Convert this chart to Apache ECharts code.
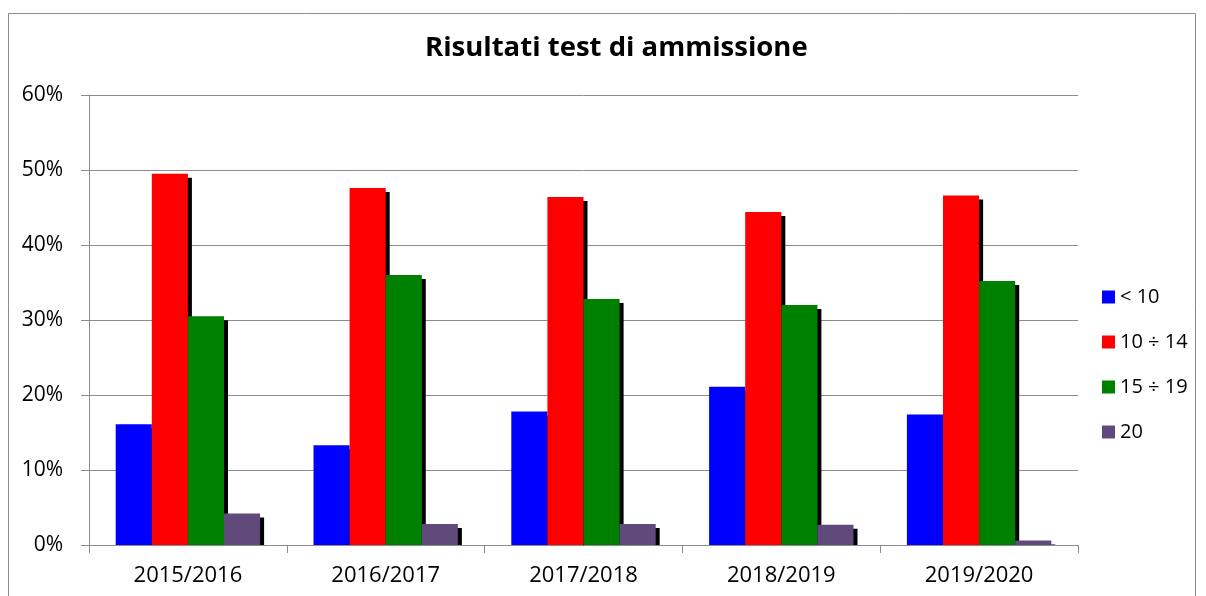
<!DOCTYPE html>
<html>
<head>
<meta charset="utf-8">
<script src="https://cdn.jsdelivr.net/npm/echarts@6/dist/echarts.min.js"></script>
<style>
  html, body { margin: 0; padding: 0; background: #fff; }
  #chart { width: 1206px; height: 596px; }
</style>
</head>
<body>
<div id="chart"></div>
<script>
const years = ['2015/2016', '2016/2017', '2017/2018', '2018/2019', '2019/2020']
const seriesNames = ['< 10', '10 ÷ 14', '15 ÷ 19', '20']
const below10 = [16.1, 13.3, 17.8, 21.1, 17.4]
const from10to14 = [49.5, 47.6, 46.4, 44.4, 46.6]
const from15to19 = [30.5, 36.0, 32.8, 32.0, 35.2]
const full20 = [4.2, 2.8, 2.8, 2.7, 0.6]
const colors = ['#0000ff', '#ff0000', '#008000', '#604a7b']

const font = '"Open Sans", sans-serif'
const chart = echarts.init(document.getElementById('chart'))

const makeBar = (name, data, color) => ({
  name,
  type: 'bar',
  data,
  barGap: '0%',
  barCategoryGap: '27%',
  itemStyle: {
    color,
    shadowColor: '#000',
    shadowBlur: 0,
    shadowOffsetX: 4,
    shadowOffsetY: 4
  },
  emphasis: { disabled: true }
})

chart.setOption({
  animation: false,
  title: {
    text: 'Risultati test di ammissione',
    left: 420,
    top: 29,
    textStyle: { fontFamily: font, fontSize: 27.5, fontWeight: 'bold', color: '#000' }
  },
  graphic: [
    {
      type: 'rect',
      shape: { x: 8.5, y: 13.5, width: 1187, height: 600 },
      style: { fill: 'none', stroke: '#8c8c8c', lineWidth: 1 },
      silent: true
    },
    {
      // hides the part of the bar shadows that falls under the x axis
      type: 'rect',
      z: 3,
      shape: { x: 90, y: 546, width: 988, height: 6 },
      style: { fill: '#fff' },
      silent: true
    }
  ],
  legend: {
    orient: 'vertical',
    left: 1097,
    top: 282,
    itemWidth: 13,
    itemHeight: 13,
    itemGap: 25,
    icon: 'rect',
    data: seriesNames,
    textStyle: { fontFamily: font, fontSize: 20, color: '#000' }
  },
  grid: { left: 89, right: 128, top: 95, bottom: 51 },
  xAxis: {
    type: 'category',
    data: years,
    z: 4,
    axisLine: { lineStyle: { color: '#8c8c8c' } },
    axisTick: { show: true, length: 8, lineStyle: { color: '#8c8c8c' } },
    axisLabel: { fontFamily: font, fontSize: 22, color: '#000', margin: 20 }
  },
  yAxis: {
    type: 'value',
    min: 0,
    max: 60,
    interval: 10,
    axisLine: { show: true, lineStyle: { color: '#8c8c8c' } },
    axisTick: { show: true, length: 8, lineStyle: { color: '#8c8c8c' } },
    splitLine: { lineStyle: { color: '#8c8c8c' } },
    axisLabel: { fontFamily: font, fontSize: 21, color: '#000', margin: 26, formatter: '{value}%' }
  },
  series: [
    makeBar(seriesNames[0], below10, colors[0]),
    makeBar(seriesNames[1], from10to14, colors[1]),
    makeBar(seriesNames[2], from15to19, colors[2]),
    makeBar(seriesNames[3], full20, colors[3])
  ]
})
</script>
</body>
</html>
